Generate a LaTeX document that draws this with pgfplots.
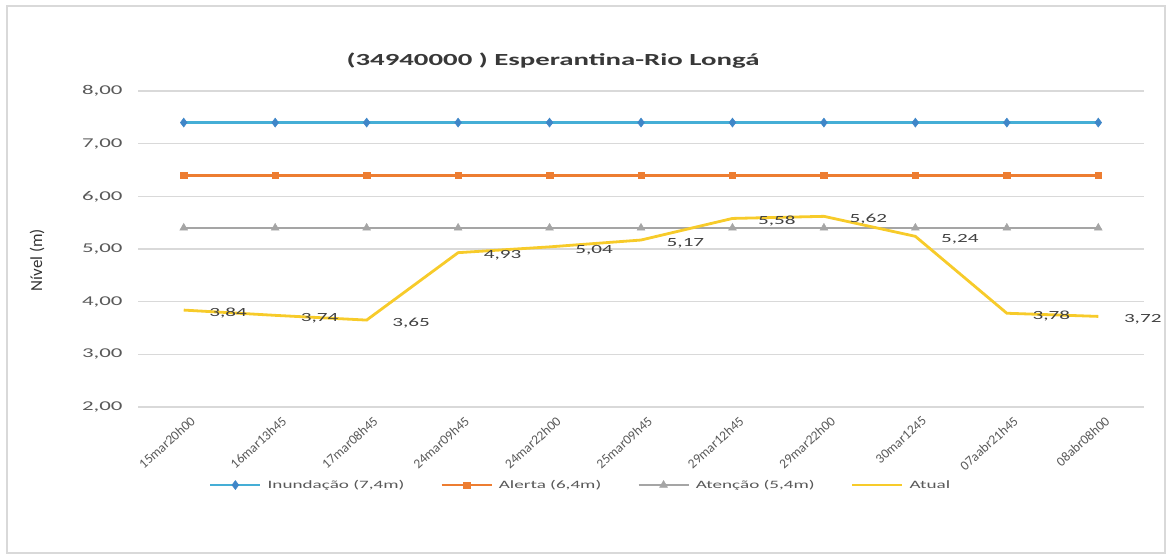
\documentclass[border=0pt]{standalone}
\usepackage{fontspec}
\setmainfont{Carlito}[FakeStretch=1.7]
\newfontfamily\plainfont{Carlito}
\usepackage{pgfplots}
\pgfplotsset{compat=1.18}
\definecolor{cInund}{HTML}{45AED6}
\definecolor{cInundMk}{HTML}{3F86C8}
\definecolor{cAlerta}{HTML}{ED7D31}
\definecolor{cAtencao}{HTML}{A5A5A5}
\definecolor{cAtual}{HTML}{F7CB2A}
\definecolor{cText}{HTML}{595959}
\begin{document}
\begin{tikzpicture}[x=1bp,y=1bp]
\useasboundingbox (0,0) rectangle (1168,558);
\draw[color=black!15, line width=1.5bp] (7,5) rectangle (1165,552);
\node[font=\bfseries\fontsize{17}{17}\selectfont, text=black!78] at (553,497) {(34940000 ) Esperantina-Rio Longá};
\node[rotate=90, font=\plainfont\fontsize{17}{17}\selectfont, text=black!80] at (37,298) {Nível (m)};
\begin{axis}[
  at={(138bp,151bp)}, anchor=south west,
  scale only axis, width=1006bp, height=316bp,
  xmin=-0.5, xmax=10.5, ymin=2, ymax=8,
  ytick={2,3,...,8},
  xtick={0,...,10},
  xticklabels={15mar20h00,16mar13h45,17mar08h45,24mar09h45,24mar22h00,25mar09h45,29mar12h45,29mar22h00,30mar1245,07aabr21h45,08abr08h00},
  axis line style={draw=none},
  major tick length=0pt,
  ymajorgrids, grid style={black!15, line width=1.2bp},
  x tick label style={rotate=42, anchor=north east, font=\plainfont\fontsize{13.5}{13.5}\selectfont, text=cText, xshift=2bp, yshift=-7bp},
  y tick label style={font=\fontsize{13.5}{13.5}\selectfont, text=cText, xshift=-12bp},
  yticklabel={\pgfmathprintnumber[fixed, fixed zerofill, precision=2, use comma, assume math mode=true]{\tick}},
  legend style={at={(0.44,-0.247)}, anchor=center, draw=none, legend columns=4,
    font=\fontsize{11.3}{11.3}\selectfont, text=cText,
    /tikz/every odd column/.append style={column sep=4bp},
    /tikz/every even column/.append style={column sep=34bp}},
  legend image code/.code={\draw[#1, mark repeat=2, mark phase=2] plot coordinates {(0bp,0bp) (25bp,0bp) (50bp,0bp)};},
]
\addplot[color=cInund, line width=2.5bp, mark=diamond*, mark size=4.5bp, mark options={fill=cInundMk, draw=cInundMk, line width=0.5bp}] coordinates {
(0,7.4) (1,7.4) (2,7.4) (3,7.4) (4,7.4) (5,7.4) (6,7.4) (7,7.4) (8,7.4) (9,7.4) (10,7.4)};
\addlegendentry{Inundação (7,4m)}
\addplot[color=cAlerta, line width=2.5bp, mark=square*, mark size=3.2bp, mark options={fill=cAlerta, line width=0.5bp}] coordinates {
(0,6.4) (1,6.4) (2,6.4) (3,6.4) (4,6.4) (5,6.4) (6,6.4) (7,6.4) (8,6.4) (9,6.4) (10,6.4)};
\addlegendentry{Alerta (6,4m)}
\addplot[color=cAtencao, line width=2.5bp, mark=triangle*, mark size=4.5bp, mark options={fill=cAtencao, line width=0.5bp}] coordinates {
(0,5.4) (1,5.4) (2,5.4) (3,5.4) (4,5.4) (5,5.4) (6,5.4) (7,5.4) (8,5.4) (9,5.4) (10,5.4)};
\addlegendentry{Atenção (5,4m)}
\addplot[color=cAtual, line width=2.8bp, mark=none,
  nodes near coords={\pgfmathprintnumber[fixed, fixed zerofill, precision=2, use comma, assume math mode=true]{\pgfplotspointmeta}},
  nodes near coords style={anchor=west, xshift=21bp, yshift=-3bp, font=\fontsize{12.5}{12.5}\selectfont, text=black!75}] coordinates {
(0,3.84) (1,3.74) (2,3.65) (3,4.93) (4,5.04) (5,5.17) (6,5.58) (7,5.62) (8,5.24) (9,3.78) (10,3.72)};
\addlegendentry{Atual}
\end{axis}
\end{tikzpicture}
\end{document}
